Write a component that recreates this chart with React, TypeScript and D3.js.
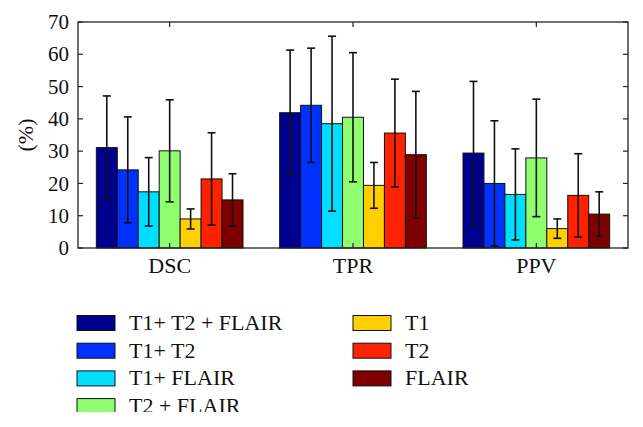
import React from "react";
import * as d3 from "d3";

const categories = ["DSC", "TPR", "PPV"];
const seriesNames = ["T1+ T2 + FLAIR", "T1+ T2", "T1+ FLAIR", "T2 + FLAIR", "T1", "T2", "FLAIR"];
const seriesColors = ["#00008f", "#0031ff", "#00deff", "#8fff70", "#ffcf00", "#ff2200", "#7f0000"];
// values[category][series]
const dscMeans = [31.1, 24.2, 17.4, 30.1, 9.0, 21.4, 14.9];
const dscSd = [16.0, 16.4, 10.6, 15.8, 3.1, 14.3, 8.1];
const tprMeans = [41.9, 44.2, 38.5, 40.5, 19.4, 35.6, 28.9];
const tprSd = [19.4, 17.7, 27.1, 20.0, 7.1, 16.7, 19.6];
const ppvMeans = [29.4, 20.0, 16.6, 27.9, 6.0, 16.3, 10.5];
const ppvSd = [22.2, 19.4, 14.1, 18.2, 3.0, 12.9, 6.9];
const yTicks = [0, 10, 20, 30, 40, 50, 60, 70];

const means = [dscMeans, tprMeans, ppvMeans];
const sds = [dscSd, tprSd, ppvSd];

const W = 643, H = 427;
const left = 78, right = 628, top = 22, bottom = 248;
const FAMILY = "Liberation Serif, Times New Roman, serif";

export default function App() {
  const x = d3.scaleLinear().domain([0.5, 3.5]).range([left, right]);
  const y = d3.scaleLinear().domain([0, 70]).range([bottom, top]);
  const groupW = 0.8;
  const n = seriesNames.length;
  const bw = groupW / n;
  const axisColor = "#222";

  const bars: any[] = [];
  const errs: any[] = [];
  categories.forEach((c, ci) => {
    seriesNames.forEach((s, si) => {
      const x0 = ci + 1 - groupW / 2 + si * bw;
      const v = means[ci][si];
      const sd = sds[ci][si];
      const xl = x(x0), xr = x(x0 + bw);
      bars.push(
        <rect key={`b${ci}-${si}`} x={xl} y={y(v)} width={xr - xl} height={y(0) - y(v)}
          fill={seriesColors[si]} stroke="#111" strokeWidth={1} />
      );
      const cx = (xl + xr) / 2;
      const hi = y(v + sd), lo = y(Math.max(0, v - sd));
      errs.push(
        <g key={`e${ci}-${si}`} stroke="#111" strokeWidth={1.6}>
          <line x1={cx} x2={cx} y1={hi} y2={lo} />
          <line x1={cx - 4} x2={cx + 4} y1={hi} y2={hi} />
          <line x1={cx - 4} x2={cx + 4} y1={lo} y2={lo} />
        </g>
      );
    });
  });

  const legendX = [77, 353];
  const legendY0 = 323;
  const legendDy = 27.7;

  return (
    <svg width={W} height={H} style={{ position: "absolute", left: 0, top: 0, background: "#fff", fontFamily: FAMILY }}>
      <rect x={0} y={0} width={W} height={H} fill="#fff" />
      {bars}
      {errs}
      <rect x={left} y={top} width={right - left} height={bottom - top} fill="none" stroke={axisColor} strokeWidth={1.3} />
      <g style={{ fontFamily: FAMILY, fontSize: "22px" }} fill="#111">
        {yTicks.map((t) => (
          <g key={`yt${t}`}>
            <line x1={left} x2={left + 5} y1={y(t)} y2={y(t)} stroke={axisColor} strokeWidth={1.2} />
            <line x1={right} x2={right - 5} y1={y(t)} y2={y(t)} stroke={axisColor} strokeWidth={1.2} />
            <text x={69} y={y(t)} dy="0.34em" textAnchor="end" style={{ fontSize: "21px" }}>{t}</text>
          </g>
        ))}
        {categories.map((c, ci) => (
          <g key={`xt${c}`}>
            <line x1={x(ci + 1)} x2={x(ci + 1)} y1={top} y2={top + 5} stroke={axisColor} strokeWidth={1.2} />
            <line x1={x(ci + 1)} x2={x(ci + 1)} y1={bottom} y2={bottom - 5} stroke={axisColor} strokeWidth={1.2} />
            <text x={x(ci + 1)} y={273} textAnchor="middle">{c}</text>
          </g>
        ))}
        <text transform={`translate(25,${(top + bottom) / 2}) rotate(-90)`} textAnchor="middle" dy="0.35em">(%)</text>
        {seriesNames.map((s, i) => {
          const col = i < 4 ? 0 : 1;
          const row = i < 4 ? i : i - 4;
          const cy = legendY0 + row * legendDy;
          return (
            <g key={`lg${i}`}>
              <rect x={legendX[col]} y={cy - 7.5} width={38} height={15} fill={seriesColors[i]} stroke="#111" strokeWidth={1} />
              <text x={legendX[col] + 52} y={cy + 7}>{s}</text>
            </g>
          );
        })}
      </g>
      <rect x={0} y={412} width={W} height={H - 412} fill="#fff" />
    </svg>
  );
}
